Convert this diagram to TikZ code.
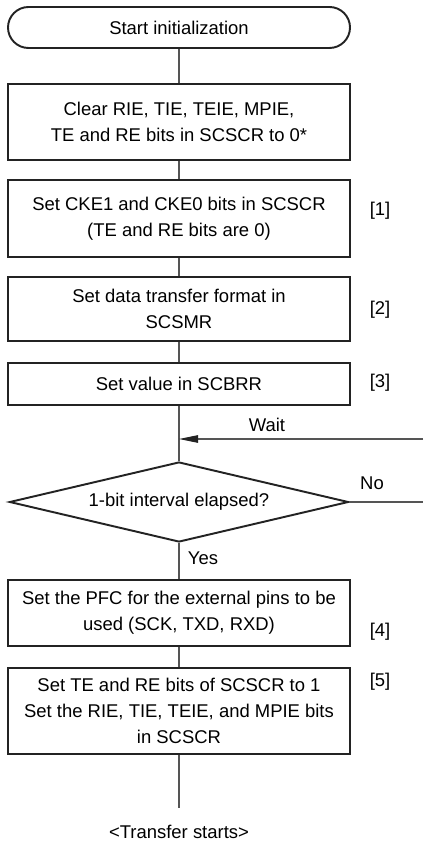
\documentclass[tikz,border=0pt]{standalone}
\usepackage{fontspec}
\setmainfont{Liberation Sans}
\usetikzlibrary{arrows.meta,shapes.geometric}
\definecolor{boxline}{HTML}{232323}
\definecolor{flowline}{HTML}{555555}
\tikzset{
 procbox/.style={draw=boxline,line width=1.1pt,minimum width=6.84cm,align=center,inner sep=0pt},
 termbox/.style={procbox,rounded corners=.41cm,minimum height=.82cm},
 decbox/.style={diamond,draw=boxline,line width=1.1pt,aspect=4.24,minimum width=6.78cm,minimum height=1.6cm,inner sep=0pt},
 flow/.style={draw=flowline,line width=.6pt},
 steplabel/.style={anchor=center}
}

\begin{document}
\begin{tikzpicture}[font=\fontsize{10.5}{14.7}\selectfont,>=Latex,line join=miter]
\useasboundingbox (0,0) rectangle (8.46,-16.98);
% Main column of steps.
\node[termbox] (start) at (3.58,-.55) {Start initialization};
\node[procbox,minimum height=1.52cm] (clear) at (3.58,-2.44)
 {Clear RIE, TIE, TEIE, MPIE,\\TE and RE bits in SCSCR to 0*};
\node[procbox,minimum height=1.54cm] (cke) at (3.58,-4.37)
 {Set CKE1 and CKE0 bits in SCSCR\\(TE and RE bits are 0)};
\node[procbox,minimum height=1.28cm] (smr) at (3.58,-6.18)
 {Set data transfer format in\\SCSMR};
\node[procbox,minimum height=.84cm] (brr) at (3.58,-7.68) {Set value in SCBRR};
\node[decbox] (check) at (3.58,-10.04) {1-bit interval elapsed?};
\node[procbox,minimum height=1.32cm] (pfc) at (3.58,-12.26)
 {Set the PFC for the external pins to be\\used (SCK, TXD, RXD)};
\node[procbox,minimum height=1.72cm] (enable) at (3.58,-14.22)
 {Set TE and RE bits of SCSCR to 1\\Set the RIE, TIE, TEIE, and MPIE bits\\in SCSCR};
\node (xfer) at (3.58,-16.64) {<Transfer starts>};
% Step numbers on the right.
\node[steplabel] (n1) at (7.6,-4.22) {[1]};
\node[steplabel] (n2) at (7.6,-6.2) {[2]};
\node[steplabel] (n3) at (7.6,-7.66) {[3]};
\node[steplabel] (n4) at (7.6,-12.64) {[4]};
\node[steplabel] (n5) at (7.6,-13.64) {[5]};
% Connectors.
\coordinate (waitin) at (8.46,-8.78);
\coordinate (noout) at (8.46,-10.04);
\coordinate (endpt) at (3.58,-16.16);
\draw[flow] (start)--(clear);
\draw[flow] (clear)--(cke);
\draw[flow] (cke)--(smr);
\draw[flow] (smr)--(brr);
\draw[flow] (brr)--(check);
\draw[flow,-{Triangle[length=.38cm,width=.15cm,color=boxline]}] (waitin)--(waitin-|check.north);
\node (wait) at (5.34,-8.5) {Wait};
\draw[flow] (check.east)--(noout);
\node (no) at (7.44,-9.66) {No};
\draw[flow] (check)--(pfc);
\node (yes) at (4.06,-11.16) {Yes};
\draw[flow] (pfc)--(enable);
\draw[flow] (enable)--(endpt);
\end{tikzpicture}
\end{document}
